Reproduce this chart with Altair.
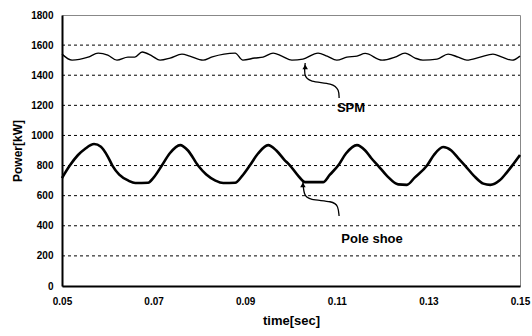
import altair as alt
import pandas as pd

# Pole shoe power (kW) vs time (s)
pole_t = [0.0500, 0.0517, 0.0535, 0.0550, 0.0570, 0.0585, 0.0600, 0.0610, 0.0625, 0.0645,
          0.0660, 0.0688, 0.0700, 0.0718, 0.0735, 0.0758, 0.0775, 0.0797, 0.0815, 0.0835,
          0.0852, 0.0878, 0.0893, 0.0910, 0.0928, 0.0950, 0.0968, 0.0985, 0.0998, 0.1015,
          0.1031, 0.1070, 0.1085, 0.1103, 0.1120, 0.1144, 0.1162, 0.1175, 0.1190, 0.1210,
          0.1234, 0.1253, 0.1270, 0.1297, 0.1312, 0.1332, 0.1350, 0.1365, 0.1380, 0.1400,
          0.1420, 0.1435, 0.1455, 0.1470, 0.1483, 0.1500]
pole_p = [717, 800, 870, 910, 943, 925, 860, 800, 740, 700,
          684, 686, 720, 800, 880, 936, 900, 800, 740, 700,
          684, 686, 730, 800, 880, 936, 900, 840, 800, 735,
          690, 690, 740, 800, 880, 936, 900, 850, 800, 730,
          675, 672, 720, 800, 870, 923, 900, 850, 800, 730,
          680, 672, 700, 750, 800, 870]

# SPM power (kW) vs time (s)
spm_t = [0.0500, 0.0522, 0.0557, 0.0579, 0.0600, 0.0620, 0.0644, 0.0659, 0.0675, 0.0697,
         0.0714, 0.0736, 0.0762, 0.0779, 0.0808, 0.0828, 0.0878, 0.0895, 0.0921, 0.0939,
         0.0961, 0.0980, 0.1002, 0.1026, 0.1059, 0.1079, 0.1100, 0.1122, 0.1144, 0.1162,
         0.1199, 0.1227, 0.1249, 0.1271, 0.1288, 0.1319, 0.1343, 0.1365, 0.1384, 0.1413,
         0.1441, 0.1461, 0.1483, 0.1500]
spm_p = [1540, 1500, 1520, 1547, 1534, 1500, 1520, 1520, 1554, 1527,
         1500, 1514, 1540, 1527, 1500, 1522, 1547, 1500, 1514, 1520,
         1547, 1527, 1500, 1507, 1547, 1527, 1500, 1520, 1527, 1545,
         1500, 1520, 1547, 1514, 1500, 1507, 1540, 1520, 1500, 1520,
         1540, 1520, 1500, 1527]

grid_vals = [200, 400, 600, 800, 1000, 1200, 1400, 1600]
x_ticks = [0.05, 0.07, 0.09, 0.11, 0.13, 0.15]
y_ticks = [0, 200, 400, 600, 800, 1000, 1200, 1400, 1600, 1800]

# annotation leader lines (data coordinates)
spm_arrow_t = [0.1031, 0.1028, 0.1039, 0.1092, 0.1105, 0.1105]
spm_arrow_p = [1481, 1401, 1355, 1348, 1301, 1248]
pole_arrow_t = [0.1026, 0.1028, 0.1039, 0.1092, 0.1103, 0.1105]
pole_arrow_p = [697, 604, 571, 564, 531, 465]
head_t = [0.1031, 0.1026]
head_p = [1455, 672]
label_t = [0.1131, 0.1177]
label_p = [1182, 312]
label_txt = ["SPM", "Pole shoe"]

FONT = "Liberation Sans"

pole = pd.DataFrame({"t": pole_t, "p": pole_p})
spm = pd.DataFrame({"t": spm_t, "p": spm_p})
grid = pd.DataFrame({"p": grid_vals, "t0": [0.05] * len(grid_vals), "t1": [0.15] * len(grid_vals)})
heads = pd.DataFrame({"t": head_t, "p": head_p})
labels = pd.DataFrame({"t": label_t, "p": label_p, "txt": label_txt})
arrows = pd.concat([
    pd.DataFrame({"t": spm_arrow_t, "p": spm_arrow_p, "g": "spm", "o": range(len(spm_arrow_t))}),
    pd.DataFrame({"t": pole_arrow_t, "p": pole_arrow_p, "g": "pole", "o": range(len(pole_arrow_t))}),
])

xs = alt.Scale(domain=[0.05, 0.15], nice=False, zero=False)
ys = alt.Scale(domain=[0, 1800], nice=False)

xax = alt.Axis(values=x_ticks, format=".2f", title="time[sec]", grid=False,
               domainColor="black", domainWidth=2, tickSize=0, labelPadding=10,
               labelFont=FONT, labelFontSize=10, labelFontWeight="bold", labelColor="black",
               titleFont=FONT, titleFontSize=13, titleFontWeight="bold", titleColor="black",
               titlePadding=8, labelFlush=False, labelOverlap=False)
yax = alt.Axis(values=y_ticks, format="d", title="Power[kW]", grid=False,
               domainColor="black", domainWidth=2, tickSize=0, labelPadding=9,
               labelFont=FONT, labelFontSize=10, labelFontWeight="bold", labelColor="black",
               titleFont=FONT, titleFontSize=12, titleFontWeight="bold", titleColor="black",
               titlePadding=6, labelFlush=False, labelOverlap=False)


def X(f="t:Q"):
    return alt.X(f, scale=xs, axis=xax)


def Y(f="p:Q"):
    return alt.Y(f, scale=ys, axis=yax)


gridlayer = alt.Chart(grid).mark_rule(color="black", strokeWidth=1, strokeDash=[3, 3]).encode(
    x=X("t0:Q"), x2="t1:Q", y=Y()
)
spm_line = alt.Chart(spm).mark_line(color="black", strokeWidth=1.4, interpolate="monotone").encode(
    x=X(), y=Y()
)
pole_line = alt.Chart(pole).mark_line(color="black", strokeWidth=2.6, interpolate="monotone").encode(
    x=X(), y=Y()
)
arrow_lines = alt.Chart(arrows).mark_line(color="black", strokeWidth=1.3, interpolate="basis").encode(
    x=X(), y=Y(), detail="g:N", order="o:Q"
)
arrow_heads = alt.Chart(heads).mark_point(shape="triangle-up", filled=True, color="black",
                                          size=30, opacity=1).encode(x=X(), y=Y())
texts = alt.Chart(labels).mark_text(font=FONT, fontSize=13, fontWeight="bold", color="black").encode(
    x=X(), y=Y(), text="txt:N"
)

chart = alt.layer(gridlayer, spm_line, pole_line, arrow_lines, arrow_heads, texts).properties(
    width=458, height=271,
    autosize=alt.AutoSizeParams(type="none"),
    padding={"left": 62, "top": 15, "right": 12, "bottom": 50},
    background="white",
).configure_view(stroke="#888888", strokeWidth=1)

chart.save("out.html", embed_options={"renderer": "svg", "actions": False})
